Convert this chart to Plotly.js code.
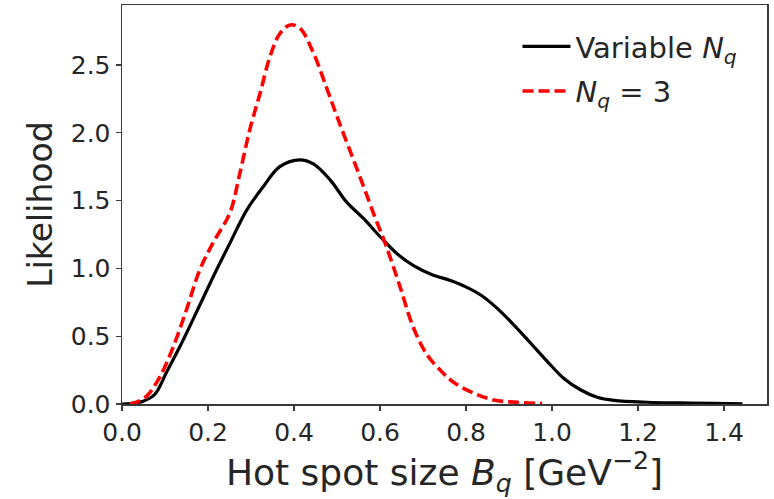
<!DOCTYPE html>
<html>
<head>
<meta charset="utf-8">
<script src="https://cdn.plot.ly/plotly-3.0.1.min.js"></script>
<style>html,body{margin:0;padding:0;background:#fff;}#chart{width:774px;height:499px;}</style>
</head>
<body>
<div id="chart"></div>
<script>
const xVariable = [0, 0.02, 0.049, 0.076, 0.103, 0.142, 0.181, 0.22, 0.251, 0.29, 0.328, 0.367, 0.414, 0.445, 0.484, 0.522, 0.561, 0.6, 0.639, 0.678, 0.72, 0.764, 0.802, 0.836, 0.872, 0.911, 0.95, 0.989, 1.027, 1.066, 1.105, 1.144, 1.222, 1.3, 1.377, 1.443];
const yVariable = [0, 0.003, 0.02, 0.07, 0.23, 0.47, 0.73, 0.99, 1.186, 1.43, 1.60, 1.75, 1.80, 1.77, 1.653, 1.49, 1.37, 1.235, 1.11, 1.02, 0.955, 0.91, 0.86, 0.80, 0.707, 0.584, 0.45, 0.314, 0.19, 0.105, 0.05, 0.027, 0.013, 0.008, 0.004, 0.002];
const xFixed = [0.018, 0.035, 0.057, 0.088, 0.119, 0.15, 0.181, 0.212, 0.251, 0.274, 0.297, 0.321, 0.344, 0.367, 0.391, 0.414, 0.445, 0.476, 0.5, 0.53, 0.561, 0.588, 0.615, 0.647, 0.678, 0.71, 0.74, 0.771, 0.818, 0.864, 0.92, 0.977];
const yFixed = [0.0, 0.015, 0.056, 0.2, 0.42, 0.695, 0.99, 1.19, 1.41, 1.70, 2.02, 2.29, 2.56, 2.73, 2.795, 2.77, 2.59, 2.33, 2.12, 1.87, 1.61, 1.38, 1.16, 0.86, 0.56, 0.36, 0.25, 0.16, 0.08, 0.03, 0.012, 0.004];
const names = ['Variable <i>N</i><sub><i>q</i></sub>', '<i>N</i><sub><i>q</i></sub> = 3'];
const xTicks = [0, 0.2, 0.4, 0.6, 0.8, 1.0, 1.2, 1.4];
const yTicks = [0, 0.5, 1.0, 1.5, 2.0, 2.5];

const font = 'DejaVu Sans, sans-serif';
const data = [
  {x: xVariable, y: yVariable, mode: 'lines', name: names[0], legendgroup: 'a',
   line: {color: '#000000', width: 3.2, shape: 'spline', smoothing: 1}},
  {x: xFixed, y: yFixed, mode: 'lines', name: names[1], legendgroup: 'b',
   line: {color: '#ff0000', width: 3.6, dash: '11px,5px', shape: 'spline', smoothing: 1}}
];
const axisCommon = {
  showgrid: false, zeroline: false, showline: true, mirror: true,
  linecolor: '#3a3a3a', linewidth: 1.5, ticks: 'outside', ticklen: 5, tickwidth: 1.3,
  tickcolor: '#3a3a3a', tickfont: {family: font, size: 25, color: '#262626'}, tickformat: '.1f'
};
const layout = {
  width: 774, height: 499,
  margin: {l: 122, r: 7, t: 5, b: 95},
  paper_bgcolor: '#ffffff', plot_bgcolor: '#ffffff',
  showlegend: true,
  legend: {x: 0.962, y: 0.96, xanchor: 'right', yanchor: 'top', bgcolor: 'rgba(255,255,255,0)',
           borderwidth: 0, font: {family: font, size: 29, color: '#262626'},
           traceorder: 'grouped', tracegroupgap: 4, itemwidth: 48},
  xaxis: Object.assign({}, axisCommon, {range: [0, 1.5], tickvals: xTicks,
    title: {text: 'Hot spot size <i>B</i><sub><i>q</i></sub> [GeV<sup>\u22122</sup>]', font: {family: font, size: 36, color: '#262626'}, standoff: 6}}),
  yaxis: Object.assign({}, axisCommon, {range: [0, 2.942], tickvals: yTicks,
    title: {text: 'Likelihood', font: {family: font, size: 33, color: '#262626'}, standoff: 8}})
};
Plotly.newPlot('chart', data, layout, {displayModeBar: false, staticPlot: true});
</script>
</body>
</html>
